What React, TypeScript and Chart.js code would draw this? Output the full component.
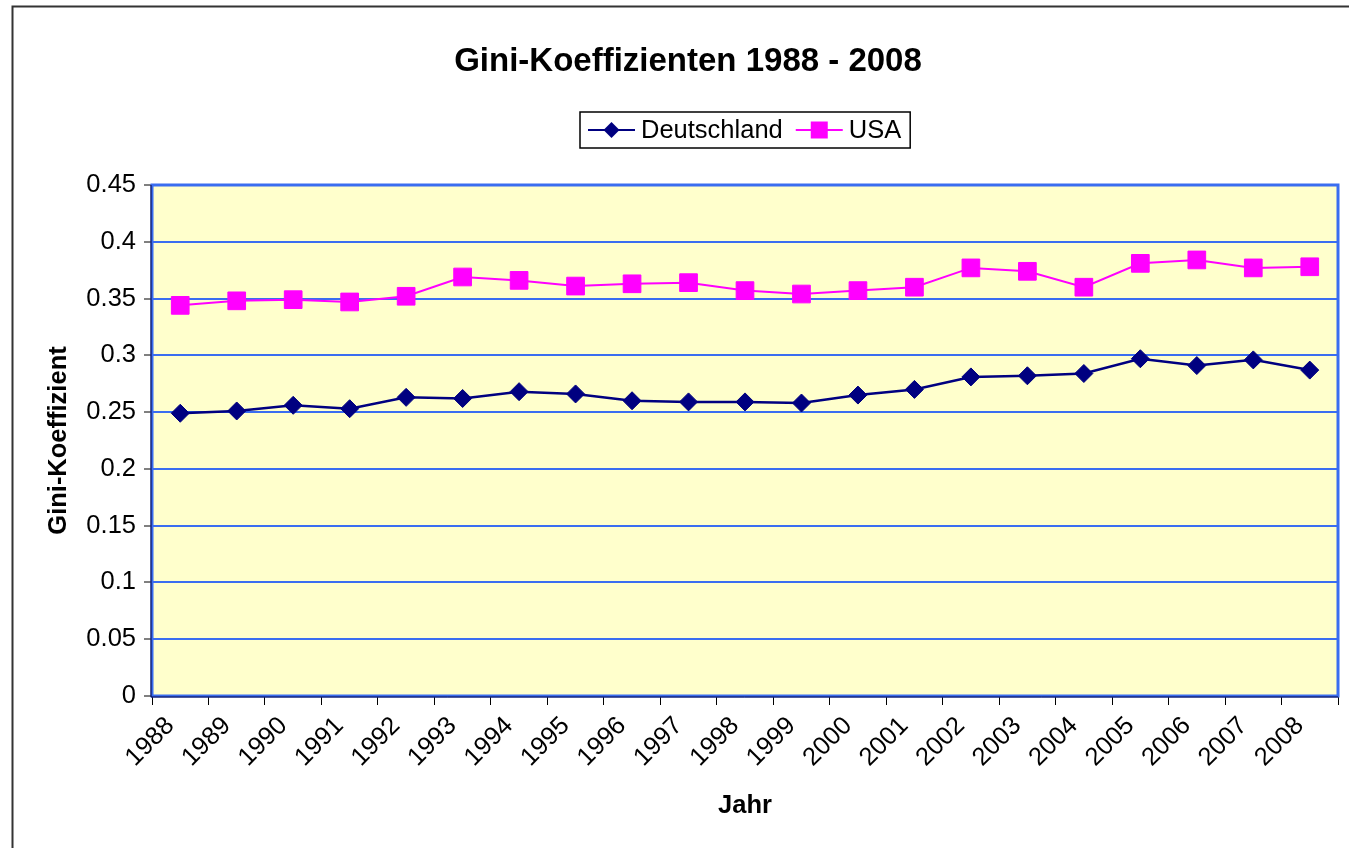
import React, { useEffect, useRef } from "react";
import { Chart, registerables } from "chart.js";

Chart.register(...registerables);

const years = ["1988", "1989", "1990", "1991", "1992", "1993", "1994", "1995", "1996", "1997", "1998", "1999", "2000", "2001", "2002", "2003", "2004", "2005", "2006", "2007", "2008"];
const deutschland = [0.249, 0.251, 0.256, 0.253, 0.263, 0.262, 0.268, 0.266, 0.26, 0.259, 0.259, 0.258, 0.265, 0.27, 0.281, 0.282, 0.284, 0.297, 0.291, 0.296, 0.287];
const usa = [0.344, 0.348, 0.349, 0.347, 0.352, 0.369, 0.366, 0.361, 0.363, 0.364, 0.357, 0.354, 0.357, 0.36, 0.377, 0.374, 0.36, 0.381, 0.384, 0.377, 0.378];
const seriesNames = ["Deutschland", "USA"];
const chartTitle = "Gini-Koeffizienten 1988 - 2008";
const xTitle = "Jahr";
const yTitle = "Gini-Koeffizient";
const yMin = 0;
const yMax = 0.45;
const yStep = 0.05;

const FONT = "'Liberation Sans', Arial, Helvetica, sans-serif";
const NAVY = "#000080";
const MAGENTA = "#FF00FF";
const GRID_BLUE = "#3A6DF0";
const BASE = 25.5;

function drawMarker(ctx: CanvasRenderingContext2D, style: string, x: number, y: number, r: number, color: string) {
  ctx.save();
  ctx.fillStyle = color;
  ctx.beginPath();
  if (style === "rectRot") {
    ctx.moveTo(x, y - r);
    ctx.lineTo(x + r, y);
    ctx.lineTo(x, y + r);
    ctx.lineTo(x - r, y);
  } else {
    ctx.rect(x - r, y - r, 2 * r, 2 * r);
  }
  ctx.closePath();
  ctx.fill();
  ctx.restore();
}

const decorPlugin = {
  id: "decor",
  beforeDraw(chart: any) {
    const { ctx, chartArea: a } = chart;
    ctx.save();
    ctx.fillStyle = "#FFFFCC";
    ctx.fillRect(a.left, a.top, a.right - a.left, a.bottom - a.top);
    ctx.strokeStyle = "#333333";
    ctx.lineWidth = 2;
    ctx.beginPath();
    ctx.moveTo(1.5, chart.height);
    ctx.lineTo(1.5, 1.5);
    ctx.lineTo(chart.width, 1.5);
    ctx.stroke();
    ctx.restore();
  },
  beforeDatasetsDraw(chart: any) {
    const { ctx, chartArea: a } = chart;
    ctx.save();
    ctx.strokeStyle = GRID_BLUE;
    ctx.lineWidth = 3;
    ctx.strokeRect(a.left, a.top, a.right - a.left, a.bottom - a.top);
    ctx.strokeStyle = "#000040";
    ctx.lineWidth = 1;
    ctx.beginPath();
    ctx.moveTo(a.left - 1, a.top);
    ctx.lineTo(a.left - 1, a.bottom + 1);
    ctx.lineTo(a.right, a.bottom + 1);
    ctx.stroke();
    ctx.restore();
  },
  afterDraw(chart: any) {
    const { ctx, chartArea: a } = chart;
    const ds = chart.data.datasets;
    ctx.save();
    ctx.font = `${BASE}px ${FONT}`;
    const lineLen = 47;
    const gapLT = 6;
    const gapItems = 13;
    const padL = 8;
    const padR = 9;
    const widths = ds.map((d: any) => ctx.measureText(d.label).width);
    let total = padL + padR + gapItems * (ds.length - 1);
    widths.forEach((w: number) => (total += lineLen + gapLT + w));
    const cx = (a.left + a.right) / 2;
    const top = 107;
    const h = 36;
    const left = Math.round(cx - total / 2);
    ctx.fillStyle = "#FFFFFF";
    ctx.fillRect(left, top, total, h);
    ctx.strokeStyle = "#000000";
    ctx.lineWidth = 1.5;
    ctx.strokeRect(left, top, total, h);
    const cy = top + h / 2;
    let x = left + padL;
    ds.forEach((d: any, i: number) => {
      ctx.strokeStyle = d.borderColor;
      ctx.lineWidth = 2;
      ctx.beginPath();
      ctx.moveTo(x, cy);
      ctx.lineTo(x + lineLen, cy);
      ctx.stroke();
      drawMarker(ctx, d.pointStyle, x + lineLen / 2, cy, d.pointStyle === "rectRot" ? 8 : 8.5, d.backgroundColor);
      x += lineLen + gapLT;
      ctx.fillStyle = "#000000";
      ctx.textBaseline = "middle";
      ctx.textAlign = "left";
      ctx.fillText(d.label, x, cy + 1);
      x += widths[i] + gapItems;
    });
    ctx.restore();
  },
};

export default function App() {
  const ref = useRef<HTMLCanvasElement>(null);
  useEffect(() => {
    if (!ref.current) return;
    const chart = new Chart(ref.current, {
      type: "line",
      data: {
        labels: years,
        datasets: [
          {
            label: seriesNames[0],
            data: deutschland,
            borderColor: NAVY,
            backgroundColor: NAVY,
            borderWidth: 2.5,
            pointStyle: "rectRot",
            pointRadius: 9,
            pointBorderWidth: 1,
            pointBackgroundColor: NAVY,
            pointBorderColor: NAVY,
            tension: 0,
          },
          {
            label: seriesNames[1],
            data: usa,
            borderColor: MAGENTA,
            backgroundColor: MAGENTA,
            borderWidth: 2,
            pointStyle: "rect",
            pointRadius: 12.5,
            pointBorderWidth: 1,
            pointBackgroundColor: MAGENTA,
            pointBorderColor: MAGENTA,
            tension: 0,
          },
        ],
      },
      options: {
        responsive: false,
        animation: false,
        devicePixelRatio: 1,
        layout: { padding: { left: 27, right: 33, top: 0, bottom: 0 } },
        plugins: {
          legend: { display: false },
          tooltip: { enabled: false },
          title: {
            display: true,
            text: chartTitle,
            color: "#000000",
            font: { family: FONT, size: 33, weight: "bold", lineHeight: 1.2 },
            padding: { top: 37.2, bottom: 103.2 },
          },
        },
        scales: {
          x: {
            type: "category",
            offset: true,
            grid: {
              offset: true,
              drawOnChartArea: false,
              drawTicks: true,
              tickLength: 9,
              tickColor: "#000000",
              color: "#000000",
            },
            border: { display: false },
            ticks: {
              autoSkip: false,
              minRotation: 45,
              maxRotation: 45,
              padding: 6,
              labelOffset: -10,
              color: "#000000",
              font: { family: FONT, size: BASE },
            },
            title: {
              display: true,
              text: xTitle,
              color: "#000000",
              font: { family: FONT, size: BASE, weight: "bold", lineHeight: 1.2 },
              padding: { top: 0, bottom: 43.7 },
            },
            afterFit: (s: any) => {
              s.height = 169;
            },
          },
          y: {
            min: yMin,
            max: yMax,
            grid: {
              color: GRID_BLUE,
              lineWidth: 2,
              drawTicks: true,
              tickLength: 8,
              tickColor: "#000000",
              tickWidth: 1,
            },
            border: { display: false },
            ticks: {
              stepSize: yStep,
              padding: 8,
              color: "#000000",
              font: { family: FONT, size: BASE },
              callback: (v: any) => String(Number(Number(v).toFixed(2))),
            },
            title: {
              display: true,
              text: yTitle,
              color: "#000000",
              font: { family: FONT, size: BASE, weight: "bold", lineHeight: 1.2 },
              padding: { top: 6, bottom: 0 },
            },
            afterFit: (s: any) => {
              s.width = 114;
            },
          },
        },
      },
      plugins: [decorPlugin],
    });
    return () => chart.destroy();
  }, []);

  return (
    <div
      style={{
        position: "fixed",
        left: 0,
        top: 0,
        width: 1349,
        height: 848,
        overflow: "hidden",
        background: "#FFFFFF",
      }}
    >
      <canvas
        ref={ref}
        width={1360}
        height={860}
        style={{ position: "absolute", left: 11, top: 5, width: 1360, height: 860 }}
      />
    </div>
  );
}
